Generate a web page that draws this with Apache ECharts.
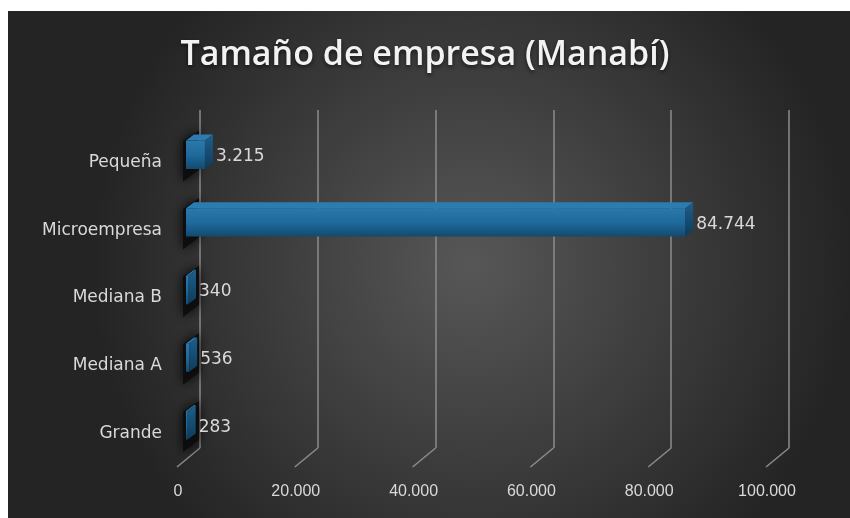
<!DOCTYPE html>
<html>
<head>
<meta charset="utf-8">
<script src="https://cdn.jsdelivr.net/npm/echarts@6/dist/echarts.min.js"></script>
<style>
html,body{margin:0;padding:0;background:#ffffff;}
#chart{width:850px;height:518px;}
</style>
</head>
<body>
<div id="chart"></div>
<script>
const categories = ['Grande', 'Mediana A', 'Mediana B', 'Microempresa', 'Pequeña'];
const values = [283, 536, 340, 84744, 3215];
const xTicks = [0, 20000, 40000, 60000, 80000, 100000];
const titleText = 'Tamaño de empresa (Manabí)';

function fmt(v) {
  return String(Math.round(v)).replace(/\B(?=(\d{3})+(?!\d))/g, '.');
}

const chart = echarts.init(document.getElementById('chart'));
const xMax = xTicks[xTicks.length - 1];
const xStep = xTicks[1] - xTicks[0];
const DX = 8, DY = -6;

const option = {
  backgroundColor: 'transparent',
  animation: false,
  graphic: [{
    type: 'rect', left: 8, top: 11, z: -10,
    shape: { width: 842, height: 507 },
    style: {
      fill: new echarts.graphic.RadialGradient(0.55, 0.5, 0.75, [
        { offset: 0, color: '#575757' },
        { offset: 1, color: '#242424' }
      ])
    }
  }],
  title: {
    text: titleText,
    left: 'center',
    top: 33,
    textStyle: {
      color: '#f2f2f2',
      fontFamily: 'Open Sans',
      fontWeight: 600,
      fontSize: 34,
      textShadowColor: 'rgba(0,0,0,0.6)',
      textShadowBlur: 4,
      textShadowOffsetY: 2
    }
  },
  grid: [
    // back wall
    { left: 200, right: 61, top: 110, bottom: 70 },
    // front plane (labels)
    { left: 178, right: 83, top: 129, bottom: 51 },
    // bars (mid depth)
    { left: 186, right: 75, top: 121, bottom: 59 }
  ],
  xAxis: [
    { gridIndex: 0, type: 'value', min: 0, max: xMax, interval: xStep,
      axisLine: { show: false }, axisTick: { show: false }, axisLabel: { show: false },
      splitLine: { show: true, lineStyle: { color: '#8c8c8c', width: 1.5 } } },
    { gridIndex: 1, type: 'value', min: 0, max: xMax, interval: xStep,
      axisLine: { show: false }, axisTick: { show: false }, splitLine: { show: false },
      axisLabel: { color: '#d9d9d9', fontSize: 16, fontFamily: 'Liberation Sans', margin: 17,
        formatter: v => fmt(v) } },
    { gridIndex: 2, type: 'value', min: 0, max: xMax, interval: xStep, show: false }
  ],
  yAxis: [
    { gridIndex: 0, type: 'category', data: categories, show: false },
    { gridIndex: 1, type: 'category', data: categories,
      axisLine: { show: false }, axisTick: { show: false },
      axisLabel: { color: '#d9d9d9', fontSize: 17, fontFamily: 'DejaVu Sans', margin: 16 } },
    { gridIndex: 2, type: 'category', data: categories, show: false }
  ],
  series: [
    // floor diagonals connecting back gridlines to front
    {
      type: 'custom', xAxisIndex: 0, yAxisIndex: 0, z: 1, silent: true,
      data: xTicks.map(t => [t]),
      encode: { x: 0 },
      renderItem: function (params, api) {
        const back = api.coord([api.value(0), 0]);
        const bottomY = params.coordSys.y + params.coordSys.height;
        return {
          type: 'line',
          shape: { x1: back[0], y1: bottomY, x2: back[0] - 23, y2: bottomY + 19 },
          style: { stroke: '#8c8c8c', lineWidth: 1.5 }
        };
      }
    },
    // left wall shadows
    {
      type: 'custom', xAxisIndex: 2, yAxisIndex: 2, z: 2, silent: true,
      data: categories.map((c, i) => [0, i]),
      encode: { x: 0, y: 1 },
      renderItem: function (params, api) {
        const p = api.coord([0, api.value(1)]);
        const h = api.size([0, 1])[1];
        return {
          type: 'polygon',
          shape: { points: [[p[0] - 3, p[1] - h * 0.2], [p[0] + 13, p[1] - h * 0.36],
                            [p[0] + 13, p[1] + h * 0.22], [p[0] - 3, p[1] + h * 0.4]] },
          style: { fill: 'rgba(12,12,12,0.9)', shadowBlur: 12, shadowColor: 'rgba(0,0,0,1)' }
        };
      }
    },
    // 3D bars
    {
      type: 'custom', xAxisIndex: 2, yAxisIndex: 2, z: 5,
      data: values.map((v, i) => [v, i]),
      encode: { x: 0, y: 1 },
      renderItem: function (params, api) {
        const v = api.value(0);
        const start = api.coord([0, api.value(1)]);
        const end = api.coord([v, api.value(1)]);
        const h = api.size([0, 1])[1] * 0.42;
        const x0 = start[0], x1 = Math.max(end[0], x0 + 1.5);
        const yT = start[1] - h / 2, yB = start[1] + h / 2;
        return {
          type: 'group',
          children: [
            { type: 'rect', shape: { x: x0, y: yT, width: x1 - x0, height: h },
              style: { fill: new echarts.graphic.LinearGradient(0, 0, 0, 1, [
                { offset: 0, color: '#2b78ab' }, { offset: 0.5, color: '#1f6a9c' }, { offset: 1, color: '#134a70' }]) } },
            { type: 'polygon', shape: { points: [[x0, yT], [x1, yT], [x1 + DX, yT + DY], [x0 + DX, yT + DY]] },
              style: { fill: '#2c7cb2' } },
            { type: 'polygon', shape: { points: [[x1, yT], [x1 + DX, yT + DY], [x1 + DX, yB + DY], [x1, yB]] },
              style: { fill: new echarts.graphic.LinearGradient(0, 0, 0, 1, [
                { offset: 0, color: '#1d5f8c' }, { offset: 1, color: '#0f3b5a' }]) } },
            { type: 'text', x: x1 + DX + 3, y: start[1] + 2,
              style: { text: fmt(v), fill: '#d9d9d9', fontSize: 17, fontFamily: 'DejaVu Sans',
                verticalAlign: 'middle', align: 'left' } }
          ]
        };
      }
    }
  ]
};
chart.setOption(option);
</script>
</body>
</html>
